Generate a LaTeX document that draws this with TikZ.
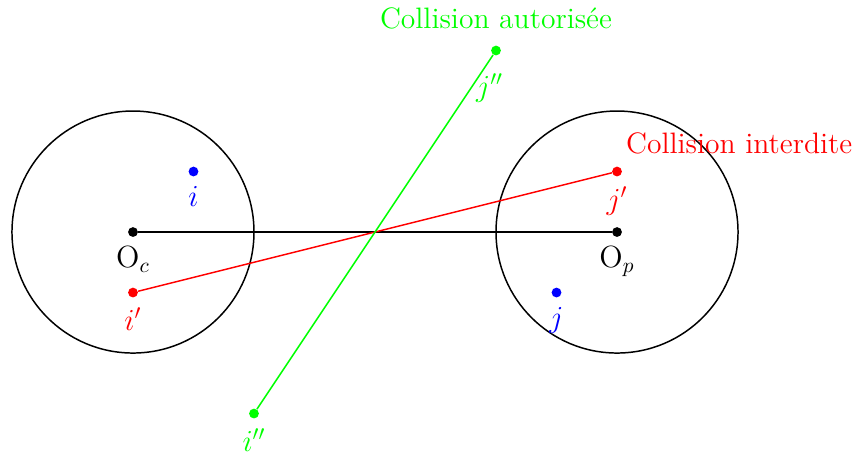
\documentclass[tikz,border=0pt]{standalone}
\usepackage{amsmath}
\usepackage{tikz}
\usetikzlibrary{positioning}

\begin{document}
\begin{tikzpicture}[
  pt/.style={circle, fill, inner sep=0pt, minimum size=4.6pt},
  lbl/.style={font=\fontsize{13.9}{16}\selectfont},
  seg/.style={line width=0.7pt}
]
\useasboundingbox (-2.198,-3.785) rectangle (11.884,3.835);
% les deux boules
\draw[seg] (0,0) circle (2);
\draw[seg] (8,0) circle (2);
% points
\node[pt] (Oc) at (0,0) {};
\node[pt] (Op) at (8,0) {};
\node[pt, blue] (i) at (1,1) {};
\node[pt, blue] (j) at (7,-1) {};
\node[pt, red] (ip) at (0,-1) {};
\node[pt, red] (jp) at (8,1) {};
\node[pt, green] (ipp) at (2,-3) {};
\node[pt, green] (jpp) at (6,3) {};
% segments
\draw[seg] (Oc) -- (Op);
\draw[seg, red] (ip) -- (jp);
\draw[seg, green] (ipp) -- (jpp);
% etiquettes
\node[lbl, below=1pt of Oc] (lOc) {$\mathrm{O}_c$};
\node[lbl, below=1pt of Op] (lOp) {$\mathrm{O}_p$};
\node[lbl, blue, below=1pt of i] (li) {$i$};
\node[lbl, blue, below=1pt of j] (lj) {$j$};
\node[lbl, red, below=1pt of ip] (lip) {$i'$};
\node[lbl, red, below=1pt of jp] (ljp) {$j'$};
\node[lbl, green, below=1pt of ipp] (lipp) {$i''$};
\node[lbl, green, below=5pt of jpp, xshift=-3pt] (ljpp) {$j''$};
\node[lbl, green, above=4pt of jpp] (auto) {Collision autoris\'ee};
\node[lbl, red, above right=3pt and -1pt of jp] (inter) {Collision interdite};
\end{tikzpicture}
\end{document}
